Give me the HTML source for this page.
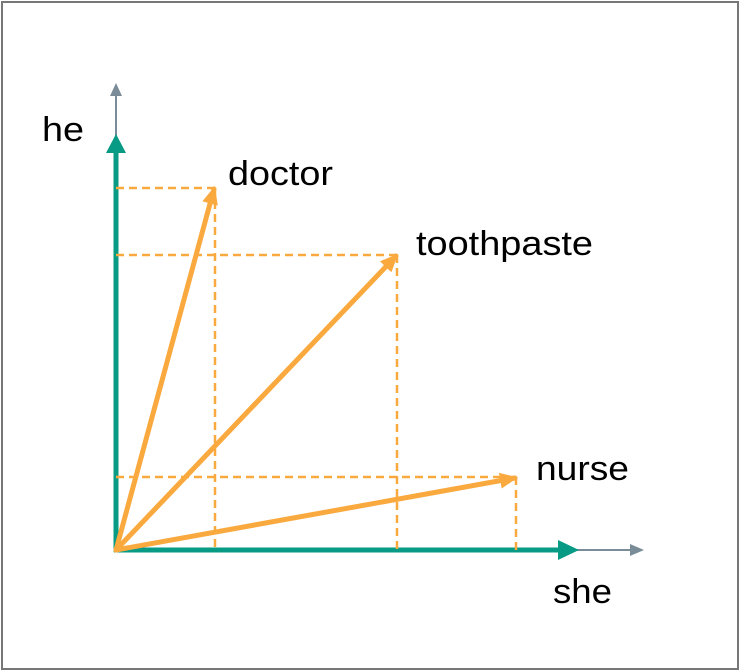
<!DOCTYPE html>
<html><head><meta charset="utf-8"><style>
body{margin:0;background:#fff}
svg{display:block;font-family:"Liberation Sans",sans-serif}
</style></head><body>
<svg width="741" height="672" viewBox="0 0 741 672">
<defs>
<marker id="ho" markerWidth="18" markerHeight="16" refX="15" refY="8" orient="auto" markerUnits="userSpaceOnUse"><path d="M0,0 L18,8 L0,16 Z" fill="#f9a93e"/></marker>
</defs>
<rect x="2" y="2" width="736" height="667" fill="#fff" stroke="#777" stroke-width="2"/>
<g id="axes"></g>
<g id="vecs"></g>
<g id="labels" font-size="34" fill="#000"></g>
</svg>
<script>
const words = ["doctor","toothpaste","nurse"];
const sheVals = [99, 281, 400];
const heVals = [362, 295, 73];
const ox = 116, oy = 550;
const sx = v => ox + v;
const sy = v => oy - v;
const NS = "http://www.w3.org/2000/svg";
function mk(tag, attrs, parent){const e=document.createElementNS(NS,tag);for(const k in attrs)e.setAttribute(k,attrs[k]);parent.appendChild(e);return e;}
const axes = document.getElementById('axes');
const vecs = document.getElementById('vecs');
const labels = document.getElementById('labels');
let g1 = mk('line',{x1:ox,y1:oy,x2:ox,y2:95,stroke:'#7a8c98','stroke-width':2},axes);


let g1h = mk('path',{d:`M${ox-6},96 L${ox},83 L${ox+6},96 Z`,fill:'#7a8c98'},axes);


let g2 = mk('line',{x1:ox,y1:oy,x2:632,y2:oy,stroke:'#7a8c98','stroke-width':2},axes);


let g2h = mk('path',{d:`M630,${oy-6} L644,${oy} L630,${oy+6} Z`,fill:'#7a8c98'},axes);


let t1 = mk('line',{x1:ox,y1:oy+2,x2:ox,y2:150,stroke:'#079a84','stroke-width':5},axes);


let t1h = mk('path',{d:`M${ox-10},153 L${ox},134 L${ox+10},153 Z`,fill:'#079a84'},axes);


let t2 = mk('line',{x1:ox-2,y1:oy,x2:562,y2:oy,stroke:'#079a84','stroke-width':5},axes);


let t2h = mk('path',{d:`M558,${oy-10} L579,${oy} L558,${oy+10} Z`,fill:'#079a84'},axes);


const labelOff = [[13,-3],[19,0],[20,3]];
const labelW = [105,177,93];
words.forEach((w,i)=>{
  const x = sx(sheVals[i]), y = sy(heVals[i]);
  const dh = mk('line',{x1:ox,y1:y,x2:x,y2:y,stroke:'#f9a93e','stroke-width':2.5,'stroke-dasharray':'8,5'},vecs);
  
  
  const dv = mk('line',{x1:x,y1:y,x2:x,y2:oy,stroke:'#f9a93e','stroke-width':2.5,'stroke-dasharray':'8,5'},vecs);
  
  
  const a = mk('line',{x1:ox,y1:oy,x2:x-1,y2:y+1,stroke:'#f9a93e','stroke-width':5,'marker-end':'url(#ho)','stroke-linecap':'round'},vecs);
  
  
  const t = mk('text',{x:x+labelOff[i][0],y:y+labelOff[i][1],textLength:labelW[i],lengthAdjust:'spacingAndGlyphs'},labels);
  t.textContent = w;
  
  
});
let he = mk('text',{x:42,y:141,textLength:42,lengthAdjust:'spacingAndGlyphs'},labels); he.textContent='he';


let she = mk('text',{x:553,y:603,textLength:59,lengthAdjust:'spacingAndGlyphs'},labels); she.textContent='she';


</script>
</body></html>
